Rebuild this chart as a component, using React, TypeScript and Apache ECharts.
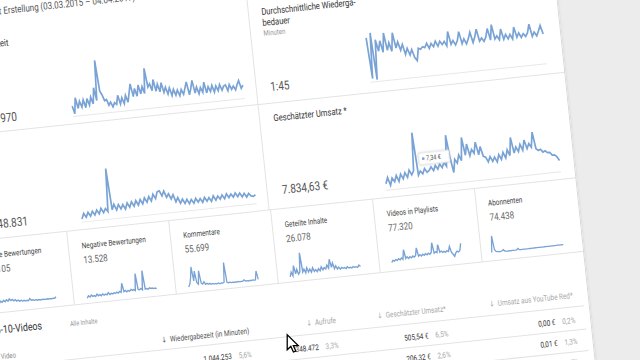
import React, { useEffect, useRef } from 'react';
import * as echarts from 'echarts';

// ---------- data ----------
const headerText = 'Seit Erstellung (03.03.2015 – 04.04.2017)';

// Wiedergabezeit per day (thousand minutes)
const watchTimeK = [20, 4, 36, 14, 28, 16, 30, 14, 32, 18, 34, 20, 52, 26, 106, 44, 36, 24, 26, 14, 20, 10, 18, 14, 32, 14, 26, 14, 30, 16, 34, 52, 26, 42, 26, 48, 30, 44, 30, 80, 42, 48, 34, 56, 32, 46, 30, 48, 28, 38, 24, 36, 20, 32, 20, 30, 18, 30, 20, 32, 44, 18, 30, 46, 20, 32, 18, 30, 20, 40, 18, 30, 20, 32, 18, 30, 20, 32, 20, 28, 30, 18, 30, 20, 26, 18, 28, 36, 20, 26];
// Durchschnittliche Wiedergabedauer per day (seconds)
const avgDurationSec = [150, 10, 165, 5, 140, 100, 135, 95, 160, 100, 125, 95, 158, 105, 125, 96, 115, 80, 100, 76, 94, 66, 55, 96, 92, 100, 96, 110, 92, 108, 96, 114, 96, 112, 100, 110, 94, 142, 98, 110, 94, 108, 138, 96, 112, 94, 110, 132, 96, 114, 140, 98, 108, 96, 110, 138, 98, 150, 100, 110, 96, 132, 96, 112, 96, 110, 94, 134, 98, 112, 96, 108, 98, 110, 138, 96, 110, 96, 112, 130, 100];
// Aufrufe per day (thousands)
const viewsK = [4, 12, 6, 13, 7, 14, 8, 15, 9, 17, 10, 16, 11, 76, 13, 21, 12, 20, 13, 19, 12, 21, 14, 22, 15, 23, 16, 24, 17, 26, 19, 27, 20, 30, 23, 33, 34, 26, 33, 23, 28, 20, 26, 15, 21, 12, 18, 11, 17, 10, 16, 10, 17, 11, 16, 10, 17, 11, 16, 10, 18, 11, 17, 12, 18, 12, 19, 13, 18, 13, 19, 13, 18, 12, 17, 11, 16, 12, 11, 13];
// Geschätzter Umsatz per day (EUR)
const revenueEur = [3, 6, 2, 5.5, 3.5, 6.5, 3.5, 7, 4.5, 7.5, 5, 8.5, 6, 8, 27, 5.5, 7.5, 6, 8.5, 6.5, 7.34, 9, 7, 9.5, 7.5, 10, 8, 10.5, 8.5, 24, 12.5, 5, 11.5, 9.5, 13.5, 10.5, 22, 13, 18.5, 12.5, 15.5, 13.5, 19, 12.5, 16.5, 11.5, 11, 8.5, 11, 8.5, 10.5, 8, 11.5, 9, 12.5, 9.5, 13.5, 10.5, 19.5, 11.5, 14.5, 12, 15.5, 12.5, 17.5, 13, 15.5, 13.5, 21, 12.5, 11.5, 12, 10.5, 11, 10, 10, 8.5, 8.5, 7.5, 5.5];
// small cards
const positiveRatings = [150, 320, 200, 380, 240, 300, 220, 340, 260, 300, 300, 420, 340, 460, 360, 480, 380, 520, 400, 460, 360, 420, 320, 380, 300, 340, 280, 320, 260, 300, 260, 400, 280, 300, 250, 280, 240, 270, 230, 260, 240, 250, 230, 260, 240, 250, 230, 260, 240, 330];
const negativeRatings = [8, 20, 12, 22, 14, 18, 12, 24, 14, 20, 13, 22, 15, 19, 14, 26, 15, 20, 16, 22, 17, 24, 18, 26, 20, 70, 22, 28, 20, 26, 22, 30, 24, 28, 22, 115, 26, 24, 30, 22, 128, 24, 26, 22, 28, 24, 26, 22, 24, 20];
const comments = [10, 25, 60, 120, 40, 95, 30, 20, 95, 25, 18, 30, 15, 20, 14, 18, 12, 16, 12, 14, 11, 15, 10, 14, 12, 16, 125, 14, 11, 13, 10, 12, 9, 11, 10, 12, 9, 11, 10, 18, 10, 12, 9, 11, 10, 12, 10, 11, 60, 12];
const shares = [5, 22, 8, 45, 14, 30, 12, 20, 90, 18, 28, 14, 32, 16, 26, 14, 30, 16, 22, 14, 24, 16, 30, 18, 26, 20, 34, 22, 55, 24, 40, 18, 28, 16, 22, 14, 20, 16, 18, 14, 20, 15, 17, 14, 18, 15, 17, 14, 22, 16];
const playlistAdds = [10, 30, 20, 35, 25, 40, 28, 45, 30, 125, 35, 50, 32, 48, 36, 52, 40, 55, 130, 45, 58, 44, 60, 48, 62, 50, 65, 52, 68, 165, 58, 70, 60, 140, 62, 72, 58, 66, 55, 70, 60, 110, 50, 30, 5, 40, 55, 45, 60, 130];
const subscribers = [20, 260, 60, 30, 25, 22, 20, 30, 45, 22, 20, 18, 20, 18, 22, 20, 19, 21, 40, 20, 19, 20, 21, 20, 22, 21, 22, 20, 23, 22, 24, 22, 25, 23, 24, 23, 25, 24, 26, 24, 25, 26, 25, 27, 26, 27, 26, 28, 27, 28];

const bigCardLabels = ['Wiedergabezeit', 'Durchschnittliche Wiederga-', 'Aufrufe', 'Geschätzter Umsatz *'];
const bigCardValues = ['18.635.970', '1:45', '10.648.831', '7.834,63 €'];
const smallCardLabels = ['Positive Bewertungen', 'Negative Bewertungen', 'Kommentare', 'Geteilte Inhalte', 'Videos in Playlists', 'Abonnenten'];
const smallCardValues = ['338.105', '13.528', '55.699', '26.078', '77.320', '74.438'];
const tableHeaders = ['Wiedergabezeit (in Minuten)', 'Aufrufe', 'Geschätzter Umsatz*', 'Umsatz aus YouTube Red*'];
const tableRow1Values = ['1.044.253', '348.472', '505,54 €', '0,00 €'];
const tableRow1Shares = ['5,6%', '3,3%', '6,5%', '0,2%'];
const tableRow2Values = ['', '', '206,32 €', '0,01 €'];
const tableRow2Shares = ['', '', '2,6%', '1,3%'];
const tableRow3Shares = ['', '', '', '0,7%'];
const tooltipText = '7,34 €';

// ---------- layout ----------
const LINE = '#7aa3d5';
const SEP = '#e3e3e3';
const FONT = 'Roboto, "Noto Sans", "DejaVu Sans", sans-serif';
const SX = 0.8;

const SPARK = [
  { data: watchTimeK, left: 124, width: 172, base: 190, height: 55, max: 110, lw: 1.7, axis: true },
  { data: avgDurationSec, left: 423.5, width: 176.5, base: 187, height: 53, max: 180, lw: 1.7, axis: true },
  { data: viewsK, left: 122, width: 175, base: 296, height: 53, max: 80, lw: 1.7, axis: true },
  { data: revenueEur, left: 428, width: 175, base: 296, height: 56, max: 28, lw: 1.7, axis: true },
  { data: positiveRatings, left: 16.5, width: 71.5, base: 373, height: 27, max: 1800, lw: 1.4, axis: false },
  { data: negativeRatings, left: 119, width: 70, base: 374, height: 27, max: 150, lw: 1.4, axis: false },
  { data: comments, left: 221, width: 70, base: 374, height: 27, max: 150, lw: 1.3, axis: false },
  { data: shares, left: 323, width: 71, base: 374, height: 27, max: 100, lw: 1.4, axis: false },
  { data: playlistAdds, left: 425.5, width: 70.5, base: 370, height: 27, max: 270, lw: 1.4, axis: false },
  { data: subscribers, left: 526, width: 72, base: 371, height: 27, max: 390, lw: 1.3, axis: false },
];

function txt(x: number, y: number, text: string, size: number, fill: string, align = 'left', weight = 'normal') {
  return {
    type: 'text', x, y, scaleX: SX, z: 10,
    style: {
      text, fill, fontSize: size, fontFamily: FONT, fontWeight: weight,
      textAlign: align, align, textVerticalAlign: 'middle', verticalAlign: 'middle',
    },
  };
}
function ln(x1: number, y1: number, x2: number, y2: number, stroke = SEP) {
  return { type: 'line', z: 5, shape: { x1, y1, x2, y2 }, style: { stroke, lineWidth: 1 } };
}

export default function App() {
  const ref = useRef<HTMLDivElement>(null);
  useEffect(() => {
    if (!ref.current) return;
    const chart = echarts.init(ref.current, null, { renderer: 'svg' });

    const grid = SPARK.map((s) => ({ left: s.left, top: s.base - s.height, width: s.width, height: s.height, containLabel: false }));
    const xAxis = SPARK.map((s, i) => ({
      type: 'category', gridIndex: i, boundaryGap: false, data: s.data.map((_, k) => k),
      show: s.axis, axisLine: { show: s.axis, lineStyle: { color: '#e8e8e8', width: 1 } },
      axisTick: { show: false }, axisLabel: { show: false }, splitLine: { show: false },
    }));
    const yAxis = SPARK.map((s, i) => ({ type: 'value', gridIndex: i, min: 0, max: s.max, show: false }));
    const series = SPARK.map((s, i) => ({
      type: 'line', xAxisIndex: i, yAxisIndex: i, data: s.data, symbol: 'none', showSymbol: false,
      lineStyle: { color: LINE, width: s.lw, join: 'miter' }, z: 3,
    }));

    const smallX = [16.5, 119, 221, 323, 425.5, 527.5];
    const colRight = [276.6, 364, 474.4, 602];
    const rowY = [445.5, 466.5, 487.5];

    const g: any[] = [
      // separators
      ln(309, 90, 309, 304),
      ln(0, 198, 618, 198),
      ln(0, 304, 618, 304),
      ln(105.5, 304, 105.5, 378), ln(208, 304, 208, 378), ln(310.5, 304, 310.5, 378),
      ln(413, 304, 413, 378), ln(515.5, 304, 515.5, 378),
      ln(0, 378, 618, 378),
      ln(10, 432, 612, 432), ln(10, 455.5, 612, 455.5), ln(10, 477, 612, 477),
      ln(617.5, 0, 617.5, 500, '#d8d8d8'),
      // header
      txt(50, 78, headerText, 10, '#555'),
      // big cards
      txt(15, 110, bigCardLabels[0], 9.5, '#333'),
      txt(68, 185, bigCardValues[0], 12.5, '#555', 'right'),
      txt(322, 106, bigCardLabels[1], 9.5, '#333'),
      txt(322, 117, 'bedauer', 9.5, '#333'),
      txt(322, 128, 'Minuten', 7.5, '#9a9a9a'),
      txt(323, 182, bigCardValues[1], 12.5, '#555'),
      txt(15, 213, bigCardLabels[2], 9.5, '#333'),
      txt(68, 290, bigCardValues[2], 12.5, '#555', 'right'),
      txt(323, 213, bigCardLabels[3], 9.5, '#333'),
      txt(324, 285.5, bigCardValues[3], 12.5, '#555'),
      // tooltip on revenue sparkline
      { type: 'rect', z: 12, shape: { x: 463, y: 263, width: 31, height: 12, r: 1 }, style: { fill: '#fff', stroke: '#d6d6d6', lineWidth: 0.8, shadowBlur: 3, shadowColor: 'rgba(0,0,0,0.12)' } },
      { type: 'rect', z: 13, shape: { x: 466.5, y: 267.8, width: 2.4, height: 2.4 }, style: { fill: LINE } },
      { ...txt(470.5, 269, tooltipText, 7, '#555'), z: 13 },
      // table
      txt(71, 395, 'Top-10-Videos', 11, '#333', 'right'),
      txt(99, 396.5, 'Alle Inhalte', 7, '#9a9a9a'),
      txt(42, 422, 'Video', 7.5, '#8a8a8a', 'right'),
    ];
    smallCardLabels.forEach((l, i) => {
      g.push(txt(smallX[i], 320, l, 8, '#444'));
      g.push(txt(smallX[i], 334.5, smallCardValues[i], 10, '#666'));
    });
    tableHeaders.forEach((h, i) => {
      g.push(txt(colRight[i], i === 0 ? 422 : 420.5, '↓  ' + h, 8, i === 0 ? '#555' : '#a8a8a8', 'right'));
    });
    const rows = [[tableRow1Values, tableRow1Shares], [tableRow2Values, tableRow2Shares], [['', '', '', ''], tableRow3Shares]];
    rows.forEach(([vals, shares], r) => {
      vals.forEach((v, i) => { if (v) g.push(txt(colRight[i] - 20, rowY[r], v, 8, '#333', 'right')); });
      shares.forEach((p, i) => { if (p) g.push(txt(colRight[i], rowY[r], p, 8, '#a8a8a8', 'right')); });
    });
    // mouse cursor (screen aligned)
    g.push({
      type: 'polygon', x: 314, y: 430, rotation: -0.1047, z: 20,
      shape: { points: [[0, 0], [0, 15], [3.6, 11.6], [6.2, 17.2], [8.6, 16.2], [6.1, 10.7], [11, 10.7]] },
      style: { fill: '#fff', stroke: '#000', lineWidth: 1.3 },
    });

    chart.setOption({
      animation: false,
      grid, xAxis, yAxis, series,
      graphic: { elements: g },
    });
    return () => chart.dispose();
  }, []);

  return (
    <div style={{ position: 'fixed', left: 0, top: 0, width: 640, height: 360, overflow: 'hidden', background: '#ececec' }}>
      <div style={{ position: 'absolute', left: -70, top: -60, width: 618, height: 500, background: '#fff', transformOrigin: '0 0', transform: 'rotate(-6deg)', boxShadow: '0 0 3px rgba(0,0,0,0.12)' }}>
        <div ref={ref} style={{ width: 618, height: 500 }} />
      </div>
    </div>
  );
}
